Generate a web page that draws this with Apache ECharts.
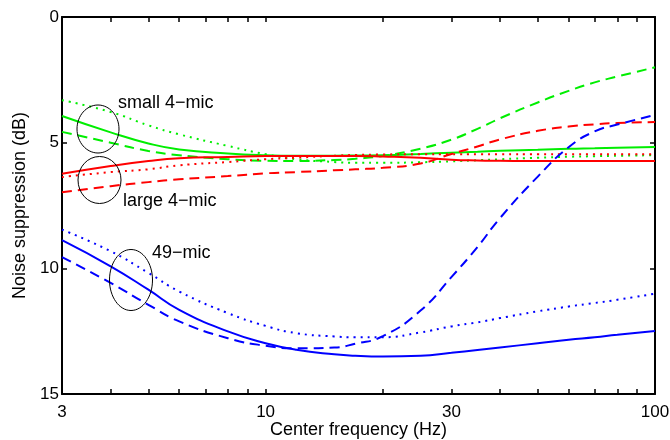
<!DOCTYPE html>
<html>
<head>
<meta charset="utf-8">
<script src="https://cdn.jsdelivr.net/npm/echarts@6/dist/echarts.min.js"></script>
<style>
  html, body { margin: 0; padding: 0; background: #fff; }
  #chart { width: 670px; height: 440px; }
</style>
</head>
<body>
<div id="chart"></div>
<script>
// center frequencies (Hz)
var freq = [3, 4, 5, 6, 8, 10, 12, 15, 17, 20, 25, 30, 35, 40, 50, 60, 70, 80, 100];

// noise suppression (dB), small 4-mic array
var small4Solid  = [3.94, 4.59, 5.03, 5.27, 5.43, 5.50, 5.52, 5.52, 5.51, 5.50, 5.45, 5.40, 5.36, 5.32, 5.28, 5.24, 5.22, 5.20, 5.17];
var small4Dashed = [4.57, 5.00, 5.33, 5.50, 5.66, 5.72, 5.73, 5.69, 5.64, 5.53, 5.24, 4.88, 4.45, 4.03, 3.40, 2.94, 2.60, 2.37, 2.00];
var small4Dotted = [3.31, 3.78, 4.31, 4.67, 5.13, 5.46, 5.66, 5.77, 5.80, 5.80, 5.78, 5.74, 5.70, 5.66, 5.60, 5.56, 5.54, 5.52, 5.50];

// large 4-mic array
var large4Solid  = [6.24, 5.93, 5.73, 5.62, 5.57, 5.53, 5.53, 5.53, 5.53, 5.55, 5.60, 5.68, 5.71, 5.72, 5.73, 5.73, 5.73, 5.73, 5.73];
var large4Dashed = [6.97, 6.73, 6.57, 6.46, 6.33, 6.22, 6.17, 6.10, 6.06, 6.00, 5.83, 5.45, 5.15, 4.87, 4.53, 4.36, 4.27, 4.22, 4.18];
var large4Dotted = [6.37, 6.17, 6.06, 5.90, 5.77, 5.66, 5.60, 5.52, 5.49, 5.47, 5.46, 5.46, 5.46, 5.46, 5.46, 5.46, 5.46, 5.46, 5.46];

// 49-mic array
var mic49Solid  = [8.88, 9.92, 10.85, 11.65, 12.51, 12.98, 13.24, 13.42, 13.48, 13.51, 13.48, 13.36, 13.25, 13.15, 12.98, 12.84, 12.74, 12.64, 12.49];
var mic49Dashed = [9.55, 10.58, 11.45, 12.11, 12.78, 13.08, 13.18, 13.15, 13.00, 12.70, 11.68, 10.35, 9.15, 8.00, 6.35, 5.18, 4.55, 4.28, 3.90];
var mic49Dotted = [8.46, 9.32, 10.18, 10.92, 11.78, 12.29, 12.58, 12.71, 12.74, 12.74, 12.55, 12.31, 12.15, 11.98, 11.71, 11.52, 11.38, 11.25, 11.01];

var xLabels = [3, 10, 30, 100];
var xTicks = [3, 4, 5, 6, 7, 8, 9, 10, 20, 30, 40, 50, 60, 70, 80, 90, 100];

var FONT = 'Liberation Sans';

function pairs(vals) {
    return freq.map(function (f, i) { return [f, vals[i]]; });
}

function line(name, vals, color, dash) {
    return {
        name: name,
        type: 'line',
        data: pairs(vals),
        smooth: 0.5,
        symbol: 'none',
        lineStyle: { color: color, width: 2, type: dash },
        emphasis: { disabled: true }
    };
}

// onZero off: the y axis is inverted, so 0 sits at the top
var axisLine = { show: true, onZero: false, lineStyle: { color: '#000', width: 2 } };
var tickStyle = { color: '#000', width: 1.5 };

var chart = echarts.init(document.getElementById('chart'));
chart.setOption({
    animation: false,
    backgroundColor: '#fff',
    grid: { left: 62, right: 15, top: 17, bottom: 46, outerBoundsMode: 'none' },
    xAxis: [{
        type: 'log',
        logBase: 10,
        min: 3,
        max: 100,
        position: 'bottom',
        name: 'Center frequency (Hz)',
        nameLocation: 'middle',
        nameGap: 27,
        nameMoveOverlap: false,
        nameTextStyle: { fontFamily: FONT, fontSize: 18, color: '#000' },
        axisLine: axisLine,
        axisTick: { show: true, inside: true, length: 5, customValues: xTicks, lineStyle: tickStyle },
        axisLabel: { customValues: xLabels, fontFamily: FONT, fontSize: 17, color: '#000', margin: 10 },
        splitLine: { show: false }
    }, {
        type: 'log',
        logBase: 10,
        min: 3,
        max: 100,
        position: 'top',
        axisLine: axisLine,
        axisTick: { show: true, inside: true, length: 5, customValues: xTicks, lineStyle: tickStyle },
        axisLabel: { show: false },
        splitLine: { show: false }
    }],
    yAxis: [{
        type: 'value',
        inverse: true,
        min: 0,
        max: 15,
        interval: 5,
        position: 'left',
        name: 'Noise suppression (dB)',
        nameLocation: 'middle',
        nameGap: 33,
        nameTextStyle: { fontFamily: FONT, fontSize: 18, color: '#000' },
        axisLine: axisLine,
        axisTick: { show: true, inside: true, length: 5, lineStyle: tickStyle },
        axisLabel: { fontFamily: FONT, fontSize: 17, color: '#000', margin: 3 },
        splitLine: { show: false }
    }, {
        type: 'value',
        inverse: true,
        min: 0,
        max: 15,
        interval: 5,
        position: 'right',
        axisLine: axisLine,
        axisTick: { show: true, inside: true, length: 5, lineStyle: tickStyle },
        axisLabel: { show: false },
        splitLine: { show: false }
    }],
    series: [
        line('small 4-mic', small4Dotted, '#00ee00', [2, 5]),
        line('small 4-mic', small4Dashed, '#00ee00', [10, 6]),
        line('small 4-mic', small4Solid, '#00ee00', 'solid'),
        line('large 4-mic', large4Dotted, '#ff0000', [2, 5]),
        line('large 4-mic', large4Dashed, '#ff0000', [10, 6]),
        line('large 4-mic', large4Solid, '#ff0000', 'solid'),
        line('49-mic', mic49Dotted, '#0000ff', [2, 5]),
        line('49-mic', mic49Dashed, '#0000ff', [10, 6]),
        line('49-mic', mic49Solid, '#0000ff', 'solid')
    ],
    graphic: [
        { type: 'ellipse', shape: { cx: 98, cy: 129, rx: 21, ry: 24 }, style: { fill: 'none', stroke: '#000', lineWidth: 1 }, z: 100 },
        { type: 'ellipse', shape: { cx: 99.5, cy: 180, rx: 21.5, ry: 23.5 }, style: { fill: 'none', stroke: '#000', lineWidth: 1 }, z: 100 },
        { type: 'ellipse', shape: { cx: 131, cy: 280, rx: 21.5, ry: 30.5 }, style: { fill: 'none', stroke: '#000', lineWidth: 1 }, z: 100 },
        { type: 'text', x: 118, y: 103, style: { text: 'small 4\u2212mic', font: '18px ' + FONT, fill: '#000', verticalAlign: 'middle' }, z: 100 },
        { type: 'text', x: 123, y: 201, style: { text: 'large 4\u2212mic', font: '18px ' + FONT, fill: '#000', verticalAlign: 'middle' }, z: 100 },
        { type: 'text', x: 152, y: 253, style: { text: '49\u2212mic', font: '18px ' + FONT, fill: '#000', verticalAlign: 'middle' }, z: 100 }
    ]
});
</script>
</body>
</html>
